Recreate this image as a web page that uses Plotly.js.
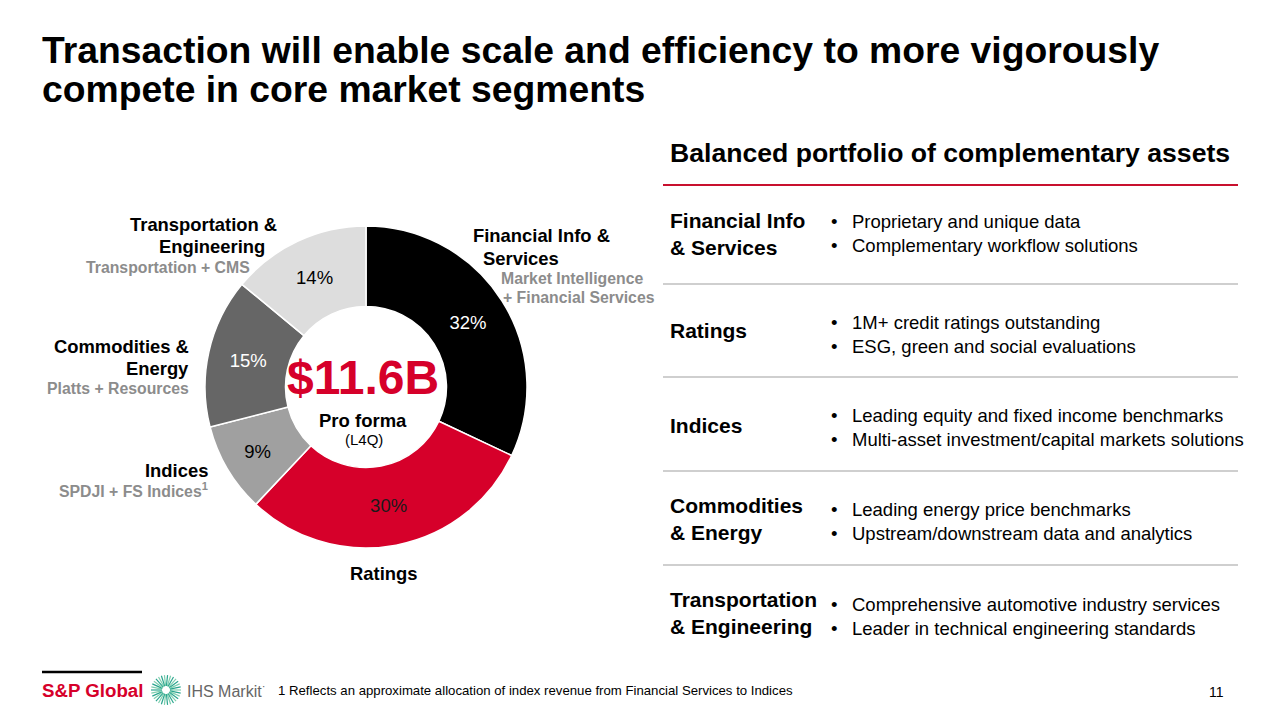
<!DOCTYPE html>
<html>
<head>
<meta charset="utf-8">
<script src="https://cdn.plot.ly/plotly-3.0.1.min.js"></script>
<style>
html,body{margin:0;padding:0;background:#fff;}
#chart{width:1280px;height:720px;}
</style>
</head>
<body>
<div id="chart"></div>
<script>
// ---- data ----
const segments = ['Financial Info & Services', 'Ratings', 'Indices', 'Commodities & Energy', 'Transportation & Engineering'];
const shares = [32, 30, 9, 15, 14];
const rowTitles = ['Financial Info<br>& Services', 'Ratings', 'Indices', 'Commodities<br>& Energy', 'Transportation<br>& Engineering'];
const rowBullets = [
  ['Proprietary and unique data', 'Complementary workflow solutions'],
  ['1M+ credit ratings outstanding', 'ESG, green and social evaluations'],
  ['Leading equity and fixed income benchmarks', 'Multi-asset investment/capital markets solutions'],
  ['Leading energy price benchmarks', 'Upstream/downstream data and analytics'],
  ['Comprehensive automotive industry services', 'Leader in technical engineering standards']
];
const totalLabel = '$11.6B';

// ---- styles ----
const sliceColors = ['#000000', '#D6002A', '#A0A0A0', '#666666', '#DDDDDD'];
const sliceTextColors = ['#ffffff', '#1a1a1a', '#000000', '#ffffff', '#000000'];
const FONT = 'Arial, "Liberation Sans", sans-serif';
const W = 1280, H = 720;
const px = x => x / W;
const py = y => 1 - y / H;

const cx = 366, cy = 387, R = 161;

const pie = {
  type: 'pie',
  labels: segments,
  values: shares,
  sort: false,
  direction: 'clockwise',
  rotation: 0,
  hole: 0.5,
  marker: {colors: sliceColors, line: {color: '#ffffff', width: 1.5}},
  texttemplate: '%{value}%',
  textposition: 'inside',
  insidetextorientation: 'horizontal',
  textfont: {family: FONT, size: 18.5, color: sliceTextColors},
  hoverinfo: 'skip',
  showlegend: false,
  domain: {x: [px(cx - R), px(cx + R)], y: [py(cy + R), py(cy - R)]}
};

const ann = [];
function txt(text, x, y, opts) {
  opts = opts || {};
  ann.push({
    text: text, x: px(x), y: py(y), xref: 'paper', yref: 'paper',
    showarrow: false, xanchor: opts.xa || 'left', yanchor: 'middle',
    align: opts.align || 'left',
    font: {family: FONT, size: opts.size || 18.4, color: opts.color || '#000'}
  });
}
const B = s => '<b>' + s + '</b>';

// Title
txt(B('Transaction will enable scale and efficiency to more vigorously'), 40, 50, {size: 37.3});
txt(B('compete in core market segments'), 40, 89, {size: 37.3});

// Donut labels
const GRAY = '#8c8c8c';
const SUB = 15.8;
txt(B('Transportation &'), 279, 224, {xa: 'right'});
txt(B('Engineering'), 267, 246, {xa: 'right'});
txt(B('Transportation + CMS'), 252, 267, {xa: 'right', size: SUB, color: GRAY});
txt(B('Financial Info &'), 471, 236);
txt(B('Services'), 481, 258);
txt(B('Market Intelligence'), 499, 278, {size: SUB, color: GRAY});
txt(B('+ Financial Services'), 501, 297, {size: SUB, color: GRAY});
txt(B('Commodities &'), 191, 346, {xa: 'right'});
txt(B('Energy'), 191, 368, {xa: 'right'});
txt(B('Platts + Resources'), 191, 388, {xa: 'right', size: SUB, color: GRAY});
txt(B('Indices'), 210, 470, {xa: 'right'});
txt(B('SPDJI + FS Indices<sup>1</sup>'), 210, 490, {xa: 'right', size: SUB, color: GRAY});
txt(B('Ratings'), 383, 573, {xa: 'center'});

// Center
txt(B(totalLabel), 363, 377, {xa: 'center', size: 48, color: '#D6002A'});
txt(B('Pro forma'), 363, 420, {xa: 'center', size: 18.5});
txt('(L4Q)', 364, 439, {xa: 'center', size: 15});

// Right panel
txt(B('Balanced portfolio of complementary assets'), 668, 153, {size: 26.6});
const titleCenters = [234, 331, 425, 519, 613];
const bulletCenters = [234, 334, 427, 521, 616];
rowTitles.forEach((t, i) => {
  txt(B(t), 668, titleCenters[i], {size: 21});
  const b = rowBullets[i];
  txt('•<br>•', 829, bulletCenters[i], {size: 18.5});
  txt(b[0] + '<br>' + b[1], 850, bulletCenters[i], {size: 18.5});
});

// Footer
txt(B('S&P Global'), 40, 690, {size: 18.7, color: '#D6002A'});
txt('IHS Markit<sup>·</sup>', 185, 690, {size: 16, color: '#666666'});
txt('1 Reflects an approximate allocation of index revenue from Financial Services to Indices', 276, 690, {size: 13.2});
txt('11', 1226, 692, {xa: 'right', size: 14});

// Shapes
const shapes = [];
function hline(x0, x1, y, color, w) {
  shapes.push({type: 'line', xref: 'paper', yref: 'paper', x0: px(x0), x1: px(x1), y0: py(y), y1: py(y), line: {color: color, width: w}});
}
hline(663, 1238, 185, '#C8102E', 2);
[284, 377, 471, 565].forEach(y => hline(663, 1238, y, '#BFBFBF', 1.5));
hline(42, 142, 672, '#000000', 2.5);
// IHS Markit starburst mark
const lx = 166, ly = 690;
for (let k = 0; k < 30; k++) {
  const a = k / 30 * 2 * Math.PI;
  const r0 = 4, r1 = 15;
  const col = k % 2 ? '#2aa58f' : '#7fcfae';
  shapes.push({type: 'line', xref: 'paper', yref: 'paper',
    x0: px(lx + r0 * Math.cos(a)), y0: py(ly + r0 * Math.sin(a)),
    x1: px(lx + r1 * Math.cos(a)), y1: py(ly + r1 * Math.sin(a)),
    line: {color: col, width: 1.2}});
}

const layout = {
  width: W, height: H,
  margin: {l: 0, r: 0, t: 0, b: 0},
  paper_bgcolor: '#ffffff', plot_bgcolor: '#ffffff',
  showlegend: false,
  font: {family: FONT},
  annotations: ann,
  shapes: shapes
};

Plotly.newPlot('chart', [pie], layout, {displayModeBar: false, staticPlot: true});
</script>
</body>
</html>
